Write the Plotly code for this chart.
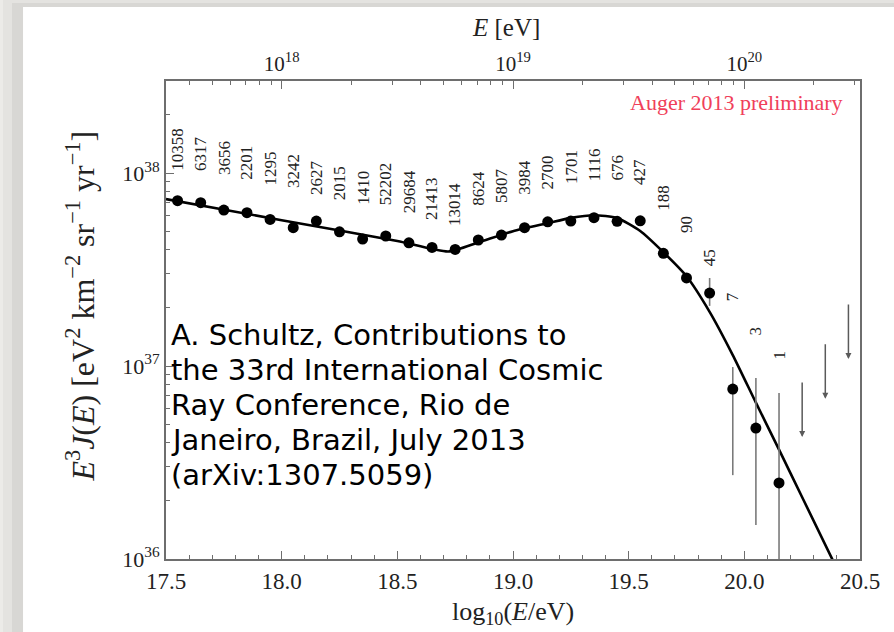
import numpy as np
import plotly.graph_objects as go

# Auger 2013 combined energy spectrum, scaled by E^3
log_e = [17.55, 17.65, 17.75, 17.85, 17.95, 18.05, 18.15, 18.25, 18.35,
         18.45, 18.55, 18.65, 18.75, 18.85, 18.95, 19.05, 19.15, 19.25,
         19.35, 19.45, 19.55, 19.65, 19.75, 19.85, 19.95, 20.05, 20.15]
flux = [7.19e37, 7.02e37, 6.43e37, 6.23e37, 5.75e37, 5.21e37, 5.64e37,
        4.96e37, 4.55e37, 4.72e37, 4.35e37, 4.12e37, 4.02e37, 4.50e37,
        4.77e37, 5.21e37, 5.59e37, 5.64e37, 5.87e37, 5.62e37, 5.66e37,
        3.84e37, 2.86e37, 2.39e37, 7.60e36, 4.77e36, 2.48e36]
flux_hi = [None] * 23 + [2.86e37, 9.88e36, 8.67e36, 7.24e36]
flux_lo = [None] * 23 + [2.05e37, 2.72e36, 1.50e36, 1.0e35]
events = ["10358", "6317", "3656", "2201", "1295", "3242", "2627", "2015",
          "1410", "52202", "29684", "21413", "13014", "8624", "5807", "3984",
          "2700", "1701", "1116", "676", "427", "188", "90", "45", "7", "3", "1"]

# upper limits for the highest bins
ul_log_e = [20.25, 20.35, 20.45]
ul_flux = [8.36e36, 1.32e37, 2.12e37]

# fitted spectrum (broken power law with suppression)
fit_log_e = [17.5, 18.0, 18.5, 18.72, 18.85, 19.0, 19.15, 19.25, 19.35,
             19.45, 19.55, 19.65, 19.75, 19.85, 19.95, 20.05, 20.15, 20.25,
             20.4]
fit_flux = [7.33e37, 5.70e37, 4.45e37, 3.92e37, 4.37e37, 5.00e37, 5.50e37,
            5.86e37, 6.05e37, 5.85e37, 5.01e37, 3.89e37, 2.92e37, 1.91e37,
            1.14e37, 6.46e36, 3.69e36, 2.09e36, 8.91e35]

# pixel lift of each count label above its point
label_lift = [28, 30, 33, 31, 32, 38, 24, 29, 32, 29, 28, 25, 21, 32, 30, 31,
              30, 35, 35, 39, 34, 41, 43, 25, 86, 91, 121]

# citation lines and their vertical centres (px from the top)
note_lines = ["A. Schultz, Contributions to", "the 33rd International Cosmic",
              "Ray Conference, Rio de", "Janeiro, Brazil, July 2013",
              "(arXiv:1307.5059)"]
note_line_px = [335, 370, 405, 440, 475]

SERIF = "Liberation Serif"
PLOT_TOP, PLOT_H = 81, 478

err_plus = [0 if h is None else h - f for h, f in zip(flux_hi, flux)]
err_minus = [0 if l is None else f - l for l, f in zip(flux_lo, flux)]

fig = go.Figure()

fig.add_trace(go.Scatter(
    x=fit_log_e, y=fit_flux, mode="lines",
    line=dict(color="black", width=2.6, shape="spline", smoothing=0.6),
    hoverinfo="skip", showlegend=False))

fig.add_trace(go.Scatter(
    x=log_e, y=flux, mode="markers",
    marker=dict(color="black", size=11),
    error_y=dict(type="data", symmetric=False, array=err_plus,
                 arrayminus=err_minus, color="#7a7a7a", thickness=1.6, width=0),
    showlegend=False))

# invisible companion trace so the top energy axis is drawn
fig.add_trace(go.Scatter(
    x=log_e, y=flux, xaxis="x2", mode="markers",
    marker=dict(opacity=0), hoverinfo="skip", showlegend=False))

annotations = []
for xe, fv, txt, lift in zip(log_e, flux, events, label_lift):
    annotations.append(dict(
        x=xe, y=np.log10(fv), xref="x", yref="y", text=txt, textangle=-90,
        showarrow=False, xanchor="center", yanchor="bottom", yshift=lift,
        font=dict(family=SERIF, size=17, color="#222")))

# arrows for upper limits, pointing down by a fixed fraction of a decade
for xe, fv in zip(ul_log_e, ul_flux):
    annotations.append(dict(
        x=xe, y=np.log10(fv) - 0.29, xref="x", yref="y",
        ax=xe, ay=np.log10(fv), axref="x", ayref="y",
        showarrow=True, arrowhead=2, arrowsize=0.8, arrowwidth=1.5,
        arrowcolor="#5a5a5a", text=""))

for line, ypx in zip(note_lines, note_line_px):
    annotations.append(dict(
        xref="paper", yref="paper", x=0.004, y=(PLOT_TOP + PLOT_H - ypx) / PLOT_H,
        xanchor="left", yanchor="middle", showarrow=False, text=line,
        font=dict(family="DejaVu Sans", size=29, color="black")))

annotations += [
    dict(xref="paper", yref="paper", x=0.978, y=0.955, xanchor="right",
         yanchor="middle", showarrow=False, text="Auger 2013 preliminary",
         font=dict(family=SERIF, size=22, color="#f0405a")),
    dict(xref="paper", yref="paper", x=-0.124, y=0.53, textangle=-90,
         showarrow=False, xanchor="center", yanchor="middle",
         text=("<i>E</i><sup>3</sup><i>J</i>(<i>E</i>) [eV<sup>2</sup> km<sup>−2</sup> "
               "sr<sup>−1</sup> yr<sup>−1</sup>]"),
         font=dict(family=SERIF, size=32, color="#222")),
    dict(xref="paper", yref="paper", x=0.5, y=(PLOT_TOP + PLOT_H - 595) / PLOT_H,
         showarrow=False, xanchor="center", yanchor="top",
         text="log<sub>10</sub>(<i>E</i>/eV)",
         font=dict(family=SERIF, size=26, color="#222")),
    dict(xref="paper", yref="paper", x=0.49, y=1.112, showarrow=False,
         xanchor="center", yanchor="middle", text="<i>E</i> [eV]",
         font=dict(family=SERIF, size=25, color="#222")),
]

y_minor = [k * 10.0 ** n for n in (36, 37, 38) for k in range(2, 10)]
top_minor = [np.log10(k * 10.0 ** n) for n in (17, 18, 19, 20) for k in range(2, 10)]
top_minor = [v for v in top_minor if 17.5 < v < 20.5]

AX_COL = "#6e6e6e"

fig.update_layout(
    width=894, height=632,
    margin=dict(l=166, r=34, t=PLOT_TOP, b=632 - PLOT_TOP - PLOT_H),
    paper_bgcolor="#ecebe8",
    plot_bgcolor="white",
    annotations=annotations,
    shapes=[
        dict(type="rect", xref="paper", yref="paper", x0=-0.235, x1=1.1,
             y0=-0.2, y1=1.17, fillcolor="rgba(0,0,0,0.03)", line_width=0,
             layer="below"),
        dict(type="rect", xref="paper", yref="paper", x0=-0.222, x1=1.1,
             y0=-0.2, y1=1.163, fillcolor="rgba(0,0,0,0.05)", line_width=0,
             layer="below"),
        dict(type="rect", xref="paper", yref="paper", x0=-0.206, x1=1.1,
             y0=-0.2, y1=1.155, fillcolor="white", line_width=0,
             layer="below"),
    ],
    xaxis=dict(
        range=[17.5, 20.5], tick0=17.5, dtick=0.5, tickformat=".1f",
        ticks="inside", ticklen=8, tickcolor=AX_COL, tickwidth=1.2,
        showline=True, linecolor=AX_COL, linewidth=2, mirror=False,
        showgrid=False, zeroline=False,
        tickfont=dict(family=SERIF, size=23, color="#222"),
        minor=dict(dtick=0.1, ticks="inside", ticklen=4, tickcolor=AX_COL,
                   tickwidth=1)),
    xaxis2=dict(
        overlaying="x", side="top", anchor="y", range=[17.5, 20.5],
        tickmode="array", tickvals=[18, 19, 20],
        ticktext=["10<sup>18</sup>", "10<sup>19</sup>", "10<sup>20</sup>"],
        ticks="inside", ticklen=8, tickcolor=AX_COL, tickwidth=1.2,
        showline=True, linecolor=AX_COL, linewidth=2,
        showgrid=False, zeroline=False,
        tickfont=dict(family=SERIF, size=21, color="#222"),
        minor=dict(tickmode="array", tickvals=top_minor, ticks="inside",
                   ticklen=4, tickcolor=AX_COL, tickwidth=1)),
    yaxis=dict(
        type="log", range=[36, np.log10(3e38)],
        tickmode="array", tickvals=[1e36, 1e37, 1e38],
        ticktext=["10<sup>36</sup>", "10<sup>37</sup>", "10<sup>38</sup>"],
        ticks="inside", ticklen=8, tickcolor=AX_COL, tickwidth=1.2,
        showline=True, linecolor=AX_COL, linewidth=2, mirror=True,
        showgrid=False, zeroline=False,
        tickfont=dict(family=SERIF, size=22, color="#222"),
        minor=dict(tickmode="array", tickvals=y_minor, ticks="inside",
                   ticklen=4, tickcolor=AX_COL, tickwidth=1)),
)

fig.write_html("out.html")
